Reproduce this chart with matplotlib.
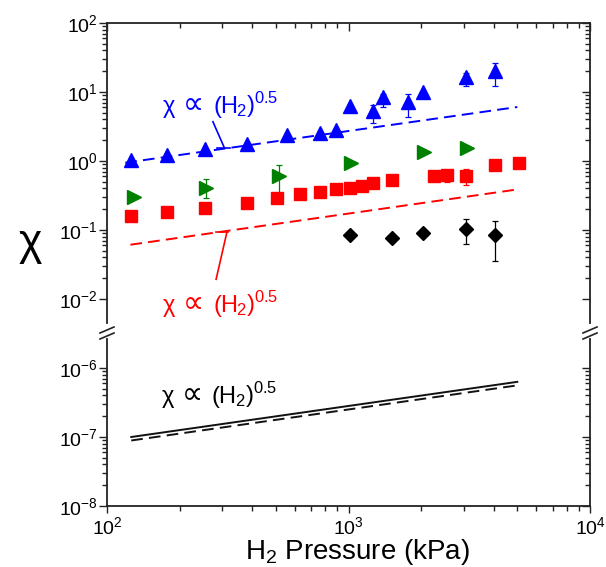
import matplotlib
matplotlib.use("Agg")
import matplotlib.pyplot as plt
from matplotlib.ticker import FixedLocator, LogFormatterSciNotation, NullFormatter
from matplotlib.lines import Line2D

plt.rcParams['font.family'] = ['Liberation Sans', 'DejaVu Sans']
plt.rcParams['mathtext.fontset'] = 'custom'
plt.rcParams['mathtext.rm'] = 'Liberation Sans'
plt.rcParams['mathtext.it'] = 'Liberation Sans:italic'
plt.rcParams['mathtext.default'] = 'regular'

# ---------------- data ----------------
blue_x = [126, 177, 254, 380, 557, 759, 889, 1018, 1265, 1392, 1770, 2028, 3061, 4046]
blue_y = [1.03, 1.22, 1.48, 1.75, 2.38, 2.52, 2.81, 6.27, 5.3, 8.4, 7.2, 10.1, 16.7, 20.4]
blue_err_x = [1265, 1392, 1770, 3061, 4046]
blue_err_y = [5.3, 8.4, 7.2, 16.7, 20.4]
blue_err_lo = [3.6, 6.0, 4.4, 12.3, 12.2]
blue_err_hi = [6.5, 9.5, 9.3, 19.0, 26.6]

red_x = [126, 177, 254, 380, 506, 632, 759, 889, 1011, 1140, 1265, 1518, 2259, 2569, 3061, 4046, 5096]
red_y = [0.161, 0.180, 0.206, 0.249, 0.294, 0.329, 0.359, 0.389, 0.410, 0.438, 0.475, 0.531,
         0.612, 0.621, 0.607, 0.875, 0.927]
red_err_x = [2569, 3061]
red_err_y = [0.621, 0.607]
red_err_lo = [0.49, 0.449]
red_err_hi = [0.72, 0.766]

green_x = [129, 258, 514, 1026, 2051, 3090]
green_y = [0.304, 0.410, 0.607, 0.927, 1.36, 1.56]
green_err_x = [258, 514]
green_err_y = [0.410, 0.607]
green_err_lo = [0.288, 0.34]
green_err_hi = [0.543, 0.875]

black_x = [1011, 1518, 2028, 3061, 4046]
black_y = [0.0848, 0.0773, 0.0914, 0.103, 0.0848]
black_err_x = [3061, 4046]
black_err_y = [0.103, 0.0848]
black_err_lo = [0.0627, 0.0358]
black_err_hi = [0.143, 0.137]

blue_fit_x = [119, 5000]
blue_fit_y = [0.944, 6.06]
red_fit_x = [125, 5000]
red_fit_y = [0.0612, 0.387]
blk_solid_x = [126, 5000]
blk_solid_y = [1.0e-7, 6.3e-7]
blk_dash_x = [126, 5000]
blk_dash_y = [8.9e-8, 5.6e-7]

# label pieces: (text, size factor, gap in px before the piece)
label_pieces = [('χ', 1.0, 0), ('∝', 1.25, 8), ('(H', 1.0, 9), ('$_2$)$^{0.5}$', 1.0, -2)]

# ---------------- layout ----------------
W, H = 606, 567
fig = plt.figure(figsize=(W / 100, H / 100), dpi=100)

L, R = 107, 590
top_t, top_b = 23, 323
bot_t, bot_b = 339, 506

def fr(x0, y0, x1, y1):
    return [x0 / W, 1 - y1 / H, (x1 - x0) / W, (y1 - y0) / H]

ax_t = fig.add_axes(fr(L, top_t, R, top_b))
ax_b = fig.add_axes(fr(L, bot_t, R, bot_b))

XLIM = (1e2, 1e4)
YLIM_T = (10 ** (2 - 300 / 69), 1e2)
YLIM_B = (1e-8, 10 ** (-6 + 29 / 69))

minor_x = [m * 10 ** e for e in (2, 3) for m in range(2, 10)]
minor_yt = [m * 10 ** e for e in (-2, -1, 0, 1) for m in range(2, 10)]
minor_yb = [m * 10 ** e for e in (-8, -7) for m in range(2, 10)]

MAJ_LEN, MIN_LEN = 5.8, 3.6
TW = 1.0

def setup_axis(ax, ylim, ymaj, ymin):
    ax.set_xscale('log')
    ax.set_yscale('log')
    ax.set_xlim(*XLIM)
    ax.set_ylim(*ylim)
    ax.yaxis.set_major_locator(FixedLocator(ymaj))
    ax.yaxis.set_minor_locator(FixedLocator(ymin))
    ax.yaxis.set_major_formatter(LogFormatterSciNotation())
    ax.yaxis.set_minor_formatter(NullFormatter())
    ax.xaxis.set_major_locator(FixedLocator([1e2, 1e3, 1e4]))
    ax.xaxis.set_minor_locator(FixedLocator(minor_x))
    ax.xaxis.set_major_formatter(LogFormatterSciNotation())
    ax.xaxis.set_minor_formatter(NullFormatter())
    for s in ax.spines.values():
        s.set_linewidth(1.3)
        s.set_color('#222222')

setup_axis(ax_t, YLIM_T, [1e-2, 1e-1, 1e0, 1e1, 1e2], minor_yt)
setup_axis(ax_b, YLIM_B, [1e-8, 1e-7, 1e-6], minor_yb)

ax_t.spines['bottom'].set_visible(False)
ax_b.spines['top'].set_visible(False)

# right-side inward ticks via twins
for ax, ylim, ymaj, ymin in ((ax_t, YLIM_T, [1e-2, 1e-1, 1e0, 1e1, 1e2], minor_yt),
                             (ax_b, YLIM_B, [1e-8, 1e-7, 1e-6], minor_yb)):
    tw = ax.twinx()
    tw.set_yscale('log')
    tw.set_ylim(*ylim)
    tw.yaxis.set_major_locator(FixedLocator(ymaj))
    tw.yaxis.set_minor_locator(FixedLocator(ymin))
    tw.yaxis.set_minor_formatter(NullFormatter())
    tw.tick_params(axis='y', which='both', direction='in', right=True, labelright=False,
                   width=TW, color='#222222')
    tw.tick_params(axis='y', which='major', length=MAJ_LEN)
    tw.tick_params(axis='y', which='minor', length=MIN_LEN)
    for s in tw.spines.values():
        s.set_visible(False)

# top inward ticks for top panel
twy = ax_t.twiny()
twy.set_xscale('log')
twy.set_xlim(*XLIM)
twy.xaxis.set_major_locator(FixedLocator([1e2, 1e3, 1e4]))
twy.xaxis.set_minor_locator(FixedLocator(minor_x))
twy.xaxis.set_minor_formatter(NullFormatter())
twy.tick_params(axis='x', which='both', direction='in', top=True, labeltop=False,
                width=TW, color='#222222')
twy.tick_params(axis='x', which='major', length=MAJ_LEN)
twy.tick_params(axis='x', which='minor', length=MIN_LEN)
for s in twy.spines.values():
    s.set_visible(False)

for ax in (ax_t, ax_b):
    ax.tick_params(axis='y', which='both', direction='out', left=True, right=False,
                   labelsize=14, pad=1, width=TW, color='#222222')
    ax.tick_params(axis='y', which='major', length=MAJ_LEN)
    ax.tick_params(axis='y', which='minor', length=MIN_LEN)

ax_t.tick_params(axis='x', which='both', bottom=False, top=False, labelbottom=False)
ax_b.tick_params(axis='x', which='both', direction='out', bottom=True, top=False,
                 labelsize=14, pad=2, width=TW, color='#222222')
ax_b.tick_params(axis='x', which='major', length=5.0)
ax_b.tick_params(axis='x', which='minor', length=3.6)

BLUE = '#0000ff'
RED = '#ff0000'
GREEN = '#008000'
BLACK = '#000000'

dash = (0, (6.0, 3.2))

# fits
ax_t.plot(blue_fit_x, blue_fit_y, color=BLUE, lw=1.4, ls=dash, zorder=2)
ax_t.plot(red_fit_x, red_fit_y, color=RED, lw=1.4, ls=dash, zorder=2)
ax_b.plot(blk_solid_x, blk_solid_y, color='#111111', lw=1.4, zorder=2)
ax_b.plot(blk_dash_x, blk_dash_y, color='#111111', lw=1.4, ls=dash, zorder=2)

def errs(y, lo, hi):
    return [[yy - l for yy, l in zip(y, lo)], [h - yy for yy, h in zip(y, hi)]]

# error bars
for ex, ey, lo, hi, c in ((blue_err_x, blue_err_y, blue_err_lo, blue_err_hi, BLUE),
                          (red_err_x, red_err_y, red_err_lo, red_err_hi, RED),
                          (green_err_x, green_err_y, green_err_lo, green_err_hi, GREEN),
                          (black_err_x, black_err_y, black_err_lo, black_err_hi, BLACK)):
    ax_t.errorbar(ex, ey, yerr=errs(ey, lo, hi), fmt='none', ecolor=c, elinewidth=0.9,
                  capsize=2.2, capthick=0.9, zorder=3)

# markers
ax_t.plot(blue_x, blue_y, ls='none', marker='^', ms=9.5, color=BLUE, mec=BLUE, zorder=4)
ax_t.plot(red_x, red_y, ls='none', marker='s', ms=8.0, color=RED, mec=RED, zorder=4)
ax_t.plot(green_x, green_y, ls='none', marker='>', ms=9.5, color=GREEN, mec=GREEN, zorder=4)
ax_t.plot(black_x, black_y, ls='none', marker='D', ms=7.3, color=BLACK, mec=BLACK, zorder=4)

# annotations (multi-part text on a common baseline)
FS = 17
renderer = fig.canvas.get_renderer()

def power_label(ax, x, y, color):
    xb, yb = ax.transData.transform((x, y))
    cur = xb
    for txt, fac, gap in label_pieces:
        t = fig.text(cur + gap, yb, txt, transform=None, color=color, fontsize=FS * fac,
                     ha='left', va='baseline')
        cur = t.get_window_extent(renderer=renderer).x1

power_label(ax_t, 170, 5.01, BLUE)
ax_t.plot([274.5, 306], [3.71, 1.56], color=BLUE, lw=1.2, zorder=3)
ax_t.plot([286, 324], [1.56, 1.56], color=BLUE, lw=1.2, zorder=3)

power_label(ax_t, 170, 0.00655, RED)
ax_t.plot([283, 314], [0.0193, 0.0945], color=RED, lw=1.2, zorder=3)
ax_t.plot([282, 318], [0.0945, 0.0945], color=RED, lw=1.2, zorder=3)

power_label(ax_b, 168, 3.1e-7, BLACK)

# axis labels
fig.text(30 / W, 1 - 246 / H, r'$\chi$', fontsize=32, ha='center', va='center',
         math_fontfamily='stixsans')
fig.text(357 / W, 1 - 559 / H, 'H$_2$ Pressure (kPa)', fontsize=20, ha='center', va='baseline')

# break marks
for xc in (L, R):
    for dy in (0, 6):
        fig.add_artist(Line2D([(xc - 7) / W, (xc + 7) / W],
                              [1 - (333 + dy) / H, 1 - (327 + dy) / H],
                              color='#222222', lw=1.2, transform=fig.transFigure))

fig.savefig('out.png', dpi=100)
